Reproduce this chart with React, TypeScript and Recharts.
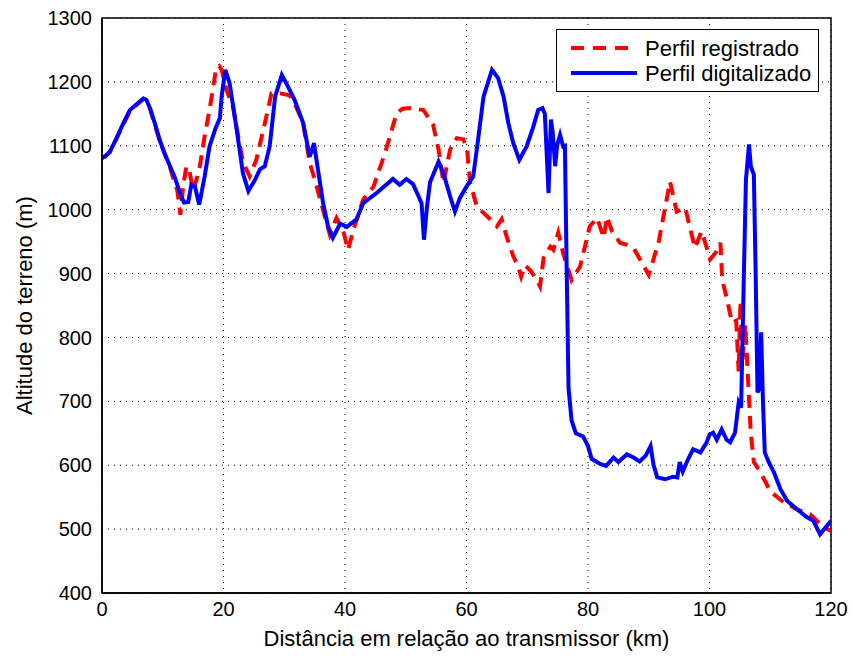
import React from "react";
import {
  LineChart,
  Line,
  XAxis,
  YAxis,
  CartesianGrid,
  ReferenceArea,
} from "recharts";

// Perfil digitalizado (blue, solid)
const digKm = [
  0, 0.5, 1.3, 2.3, 3.5, 4.6, 5.7, 6.8, 7.3, 7.9, 8.7, 9.5, 10.3, 11.2, 12, 12.8, 13.5, 14.2, 14.7, 15.3,
  16, 16.9, 17.7, 18.6, 19.4, 19.7, 20.3, 21, 22.1, 23.2, 24.1, 25.2, 26, 26.8, 27.6, 28.5, 29.6, 30.6,
  31.7, 33.1, 34.2, 34.9, 35.3, 36.4, 37.2, 38, 39.2, 40.3, 41.9, 43, 45.2, 47.9, 49, 50.1, 51.2, 52.1,
  52.6, 53, 53.5, 54, 55.4, 56.2, 57.3, 58.1, 58.9, 60, 61.1, 61.9, 62.8, 64.2, 65.2, 66.1, 66.9, 67.7,
  68.7, 69.9, 71, 71.8, 72.5, 72.9, 73.5, 73.9, 74.2, 74.6, 74.9, 75.4, 75.9, 76.2, 76.5, 76.8, 77.3, 78,
  79.2, 80, 80.6, 82, 83, 84.2, 85, 86.4, 87.5, 88.5, 89.5, 90.3, 90.8, 91.4, 92.7, 94, 94.7, 95.1, 95.6,
  96.5, 97.3, 98.5, 99.5, 100, 100.6, 101.2, 102, 102.8, 103.4, 104.2, 104.8, 105.2, 105.7, 106, 106.5,
  106.8, 107.3, 107.6, 107.9, 108.2, 108.5, 108.8, 109.1, 109.8, 110.6, 111.7, 112.8, 114.4, 116, 117.1,
  118.2, 120,
];
const digAlt = [
  1082, 1083, 1091, 1110, 1135, 1156, 1165, 1174, 1172, 1159, 1135, 1109, 1088, 1068, 1050, 1027, 1011,
  1012, 1039, 1036, 1008, 1052, 1099, 1125, 1143, 1178, 1219, 1198, 1130, 1057, 1029, 1047, 1063, 1068,
  1099, 1177, 1211, 1193, 1172, 1136, 1083, 1104, 1078, 1010, 974, 956, 978, 973, 985, 1010, 1026, 1048,
  1039, 1048, 1040, 1021, 1010, 953, 1005, 1043, 1075, 1057, 1021, 997, 1018, 1036, 1052, 1109, 1177,
  1219, 1206, 1177, 1135, 1104, 1078, 1099, 1130, 1156, 1159, 1150, 1026, 1141, 1120, 1068, 1100, 1117,
  1099, 1100, 900, 720, 670, 650, 645, 630, 610, 602, 599, 612, 605, 617, 612, 606, 615, 630, 600, 581,
  578, 582, 581, 605, 590, 610, 625, 620, 635, 648, 651, 640, 656, 640, 636, 651, 698, 690, 917, 1047,
  1102, 1068, 1055, 900, 714, 720, 808, 700, 620, 604, 589, 562, 544, 531, 519, 513, 492, 513,
];

// Perfil registrado (red, dashed)
const regKm = [
  0, 1.3, 3.5, 4.6, 6.8, 7.9, 9.5, 11.2, 11.7, 12.4, 12.9, 13.4, 13.9, 14.4, 15, 15.5, 16.1, 16.9, 17.7,
  18.8, 19.3, 19.7, 20.5, 21.6, 22.1, 23.2, 24.3, 25.4, 26.8, 27.9, 29.3, 30.9, 32, 33.1, 34.2, 35.1,
  35.9, 37.5, 38.6, 39.7, 40.5, 41.4, 43, 44.7, 46.6, 48.5, 49.5, 50.7, 52.9, 54.5, 55.4, 56.2, 57.3,
  58.4, 59.5, 60.1, 60.6, 61.7, 62.8, 63.9, 65, 65.8, 66.6, 67.7, 68.5, 69, 69.6, 70.5, 71.6, 72.1, 72.7,
  73.8, 74.3, 75.1, 75.9, 77.3, 78.7, 80.3, 81.5, 82.1, 82.6, 83.1, 84, 85.3, 86.5, 87.5, 90, 91.6, 93.5,
  94.6, 95.3, 96, 97.6, 98.7, 99.4, 100.1, 101.2, 101.8, 102.1, 102.9, 103.7, 104.4, 104.8, 105.1, 105.4,
  105.9, 106.4, 106.8, 107.3, 108.4, 110, 112.2, 114.4, 116.6, 118.8, 120,
];
const regAlt = [
  1080, 1090, 1133, 1155, 1173, 1158, 1108, 1066, 1050, 1030, 992, 1040, 1068, 1060, 1030, 1045, 1068,
  1115, 1156, 1222, 1225, 1219, 1187, 1160, 1131, 1075, 1052, 1078, 1135, 1182, 1182, 1179, 1160, 1136,
  1073, 1045, 1016, 961, 987, 967, 937, 969, 1016, 1036, 1089, 1151, 1158, 1159, 1156, 1133, 1094, 1042,
  1094, 1112, 1110, 1094, 1042, 1005, 995, 985, 974, 985, 958, 927, 911, 895, 913, 905, 890, 880, 925,
  942, 937, 964, 932, 890, 911, 974, 987, 970, 956, 989, 965, 948, 945, 940, 898, 948, 1044, 997, 1000,
  1003, 940, 966, 945, 922, 935, 948, 890, 859, 823, 826, 747, 857, 760, 820, 724, 650, 605, 589, 559,
  542, 531, 523, 503, 497,
];

const xTicks = [0, 20, 40, 60, 80, 100, 120];
const yTicks = [400, 500, 600, 700, 800, 900, 1000, 1100, 1200, 1300];

const digData = digKm.map((km, i) => ({ km, alt: digAlt[i] }));
const regData = regKm.map((km, i) => ({ km, alt: regAlt[i] }));

const FONT = "'Liberation Sans', Arial, Helvetica, sans-serif";

// legend box drawn over the plot, top right
const LegendBox = () => (
  <svg
    width={264}
    height={64}
    style={{ position: "absolute", left: 556, top: 29, display: "block" }}
  >
    <rect x={0.5} y={0.5} width={262} height={62} fill="#fff" stroke="#000" strokeWidth={1} />
    <line x1={15} y1={19} x2={81} y2={19} stroke="#ff0000" strokeWidth={4} strokeDasharray="13 9" />
    <text x={89} y={27} fontFamily={FONT} fontSize={22} fill="#000">Perfil registrado</text>
    <line x1={15} y1={44} x2={81} y2={44} stroke="#0000ff" strokeWidth={4} />
    <text x={89} y={52} fontFamily={FONT} fontSize={22} fill="#000">Perfil digitalizado</text>
  </svg>
);

export default function App() {
  return (
    <div style={{ position: "absolute", left: 0, top: 0, width: 853, height: 656, background: "#fff" }}>
      <LineChart
        width={853}
        height={656}
        margin={{ top: 18, right: 22, bottom: 0, left: 0 }}
        style={{ fontFamily: FONT }}
      >
        <CartesianGrid stroke="#000" strokeDasharray="1 5" strokeWidth={1} />
        <XAxis
          type="number"
          dataKey="km"
          domain={[0, 120]}
          ticks={xTicks}
          height={63}
          tickSize={0}
          tickMargin={9}
          axisLine={{ stroke: "#000", strokeWidth: 1.5 }}
          tick={{ fill: "#000", fontSize: 20 }}
          label={{
            value: "Distância em relação ao transmissor (km)",
            position: "insideBottom",
            offset: 10,
            fill: "#000",
            fontSize: 22,
          }}
          allowDataOverflow
        />
        <YAxis
          type="number"
          domain={[400, 1300]}
          ticks={yTicks}
          width={102}
          tickSize={0}
          tickMargin={10}
          axisLine={{ stroke: "#000", strokeWidth: 1.5 }}
          tick={{ fill: "#000", fontSize: 20 }}
          label={{
            value: "Altitude do terreno (m)",
            angle: -90,
            position: "insideLeft",
            offset: 24,
            fill: "#000",
            fontSize: 22,
            style: { textAnchor: "middle" },
          }}
          allowDataOverflow
        />
        <ReferenceArea
          x1={0}
          x2={120}
          y1={400}
          y2={1300}
          fill="none"
          stroke="#000"
          strokeWidth={1.5}
          ifOverflow="visible"
        />
        <Line
          data={regData}
          dataKey="alt"
          name="Perfil registrado"
          type="linear"
          stroke="#ff0000"
          strokeWidth={4}
          strokeDasharray="13 8"
          dot={false}
          activeDot={false}
          isAnimationActive={false}
        />
        <Line
          data={digData}
          dataKey="alt"
          name="Perfil digitalizado"
          type="linear"
          stroke="#0000ff"
          strokeWidth={4}
          dot={false}
          activeDot={false}
          isAnimationActive={false}
        />
      </LineChart>
      <LegendBox />
    </div>
  );
}
